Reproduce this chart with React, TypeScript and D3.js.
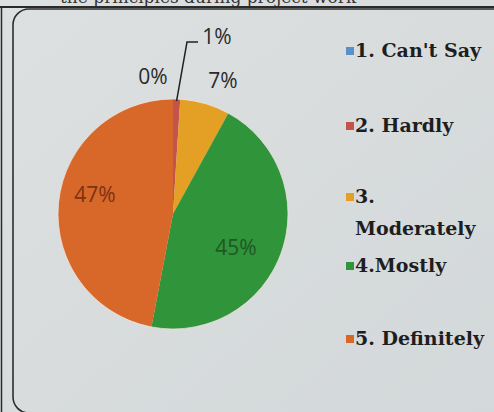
import React from "react";
import * as d3 from "d3";

const categories = ["1. Can't Say", "2. Hardly", "3. Moderately", "4.Mostly", "5. Definitely"];
const values = [0, 1, 7, 45, 47];
const labels = ["0%", "1%", "7%", "45%", "47%"];
const colors = ["#5b8fc8", "#c4544a", "#e3a024", "#2f943a", "#d8672a"];

const W = 494, H = 412;
const cx = 173, cy = 214, R = 115;

// label placement (x, y centre of text) for each slice
const labelPos: [number, number][] = [
  [153, 76],
  [217, 36],
  [223, 80],
  [236, 247],
  [95, 194],
];

const legendLines: string[][] = [["1. Can't Say"], ["2. Hardly"], ["3.", "Moderately"], ["4.Mostly"], ["5. Definitely"]];
const legendY = [57, 132, 203, 272, 345];

export default function App() {
  const pie = d3.pie<number>().sort(null).value((d) => d)(values);
  const arc = d3.arc<d3.PieArcDatum<number>>().innerRadius(0).outerRadius(R);
  const p1 = pie[1];
  const mid = (p1.startAngle + p1.endAngle) / 2;
  const lx0 = cx + Math.sin(mid) * (R - 2);
  const ly0 = cy - Math.cos(mid) * (R - 2);
  return (
    <svg width={W} height={H} style={{ position: "fixed", left: 0, top: 0 }}>
      <defs>
        <linearGradient id="bg" x1="0" y1="0" x2="1" y2="1">
          <stop offset="0" stopColor="#dde0e0" />
          <stop offset="1" stopColor="#d3d8da" />
        </linearGradient>
      </defs>
      <rect x={0} y={0} width={W} height={H} fill="url(#bg)" />
      <text x={60} y={3} fontFamily="DejaVu Serif" fontSize={17} fill="#333">the principles during project work</text>
      <line x1={0} y1={7} x2={W} y2={7} stroke="#2a2a2a" strokeWidth={2} />
      <line x1={1.5} y1={7} x2={1.5} y2={H} stroke="#2a2a2a" strokeWidth={1.5} />
      <rect x={13} y={9} width={520} height={404} rx={16} fill="none" stroke="#2e2e2e" strokeWidth={1.6} />
      <g transform={`translate(${cx},${cy})`}>
        {pie.map((p, i) => (
          <path key={i} d={arc(p) || ""} fill={colors[i]} />
        ))}
        <circle r={R} fill="none" stroke="#f2e8e0" strokeWidth={1} opacity={0.7} />
      </g>
      <polyline
        points={`${lx0},${ly0} ${187},${42} ${198},${42}`}
        fill="none"
        stroke="#222"
        strokeWidth={1.5}
      />
      {labels.map((t, i) => (
        <text
          key={i}
          x={labelPos[i][0]}
          y={labelPos[i][1]}
          textAnchor="middle"
          dominantBaseline="central"
          fontFamily="Open Sans"
          fontSize={21}
          fill={i === 3 ? "#1f4d22" : i === 4 ? "#6a2a10" : "#2a2a2a"}
          opacity={i >= 3 ? 0.85 : 1}
        >
          {t}
        </text>
      ))}
      {categories.map((c, i) => (
        <g key={c}>
          <rect x={346} y={legendY[i] - 10} width={8} height={8} fill={colors[i]} />
          {legendLines[i].map((ln, j) => (
            <text
              key={j}
              x={355}
              y={legendY[i] + j * 32}
              fontFamily="DejaVu Serif"
              fontWeight="bold"
              fontSize={19}
              fill="#1e1e1e"
            >
              {ln}
            </text>
          ))}
        </g>
      ))}
    </svg>
  );
}
